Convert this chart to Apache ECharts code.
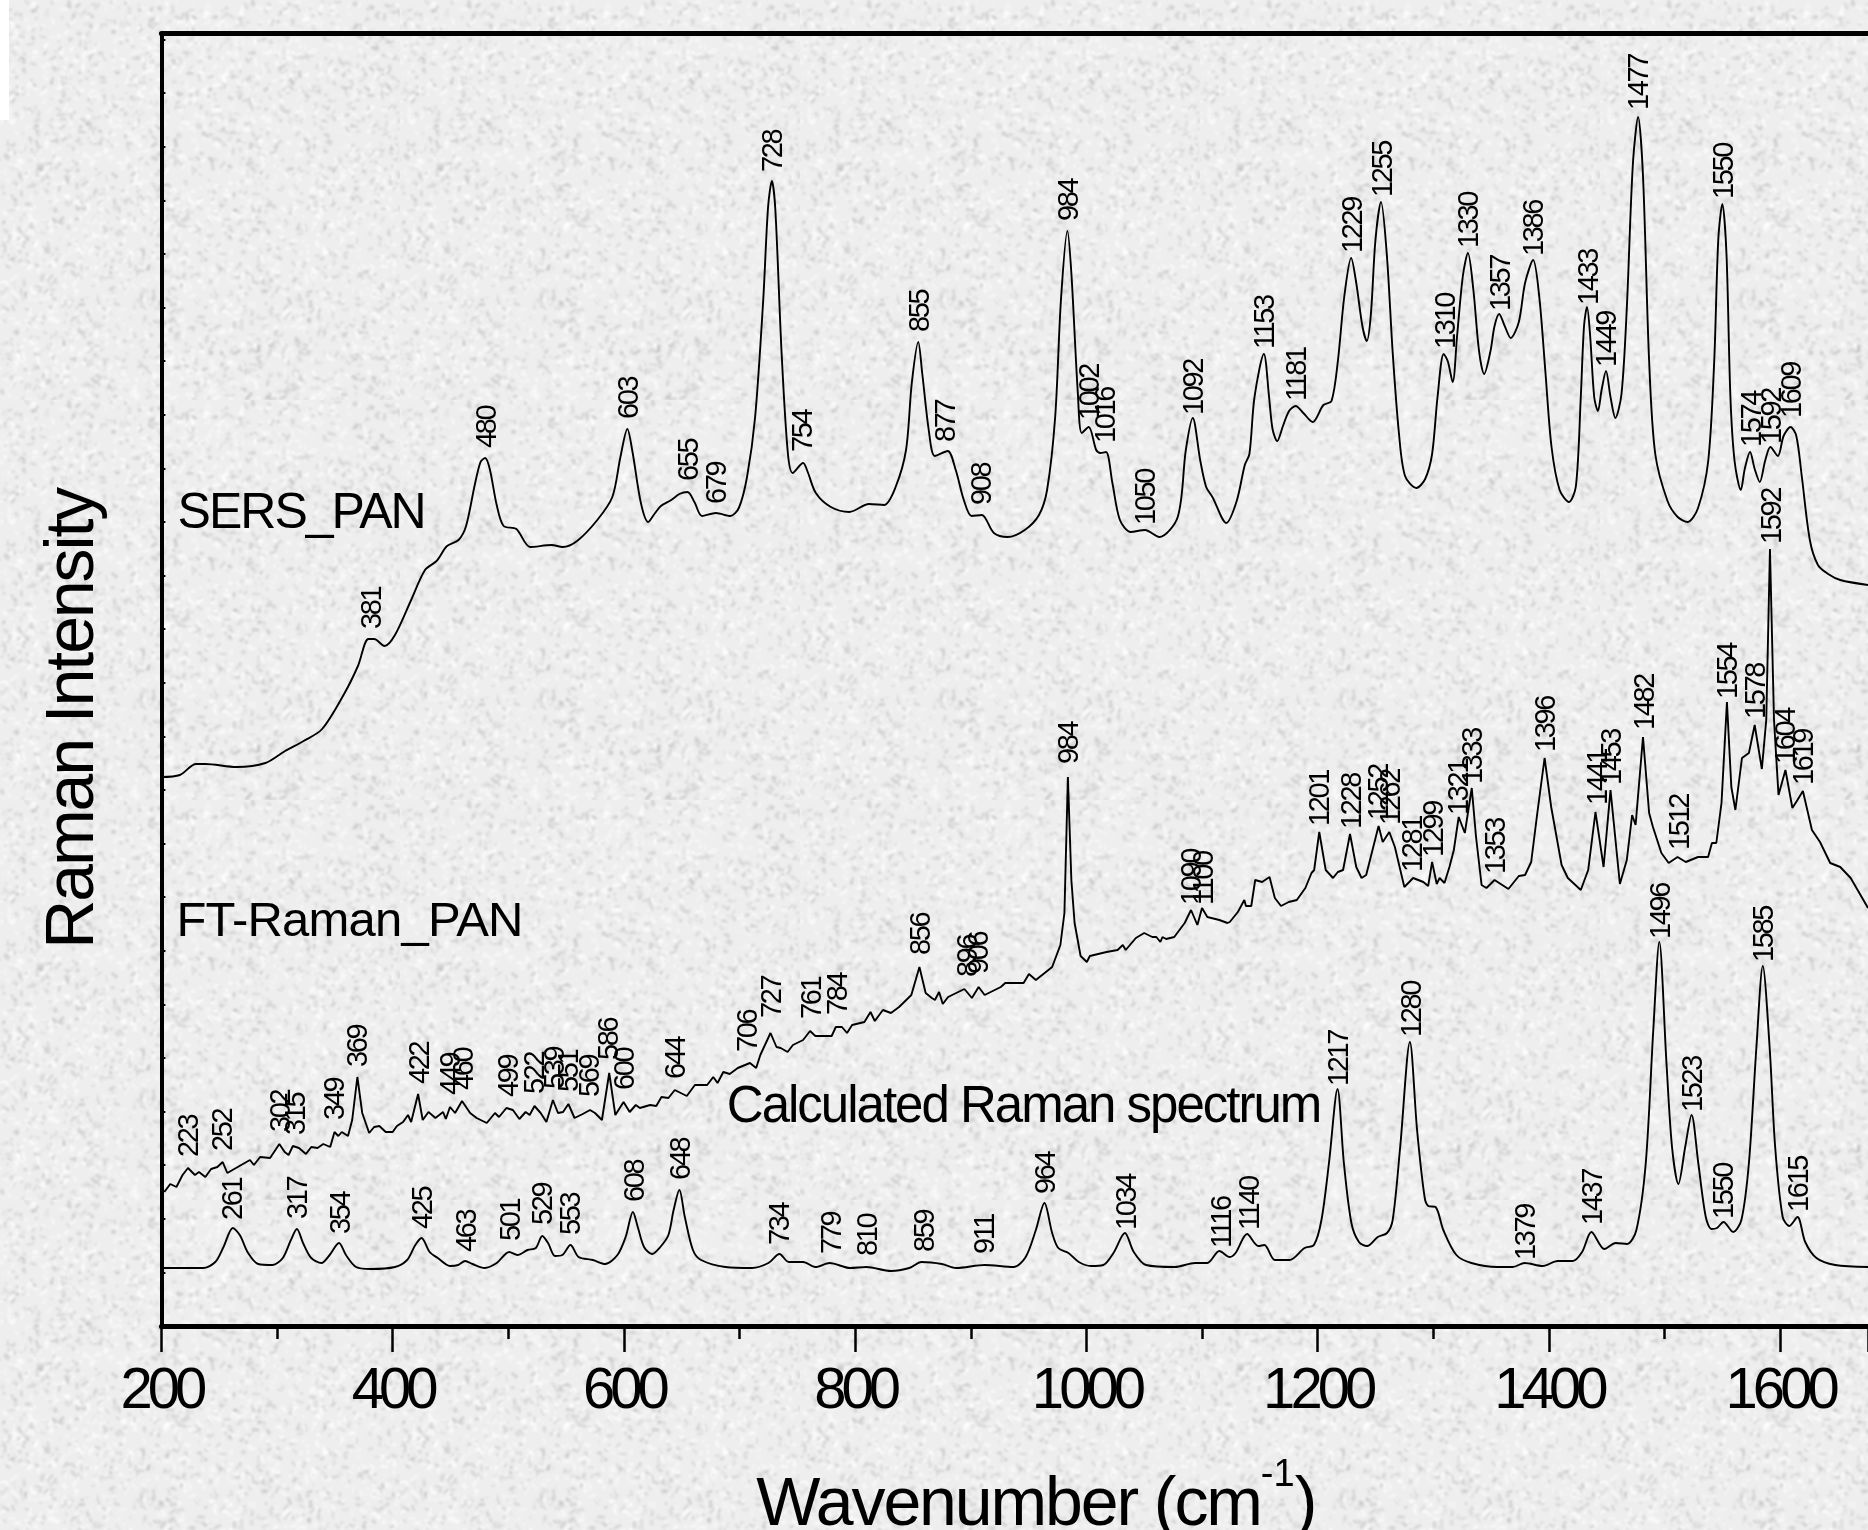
<!DOCTYPE html>
<html>
<head>
<meta charset="utf-8">
<title>Raman spectra of PAN</title>
<script src="https://cdn.jsdelivr.net/npm/echarts@6/dist/echarts.min.js"></script>
<style>
html,body{margin:0;padding:0;width:1868px;height:1530px;overflow:hidden;background:#ececec;}
#corner{position:absolute;left:0;top:0;width:9px;height:120px;background:#fff;z-index:2;}
#main{position:absolute;left:0;top:0;width:1868px;height:1530px;z-index:3;}
</style>
</head>
<body>
<div id="corner"></div>
<div id="main"></div>
<script>
// Wavenumber / intensity traces (intensity in arbitrary units)
const sersWave = [200,216,230,238,265,290,307,323,339,358,370,379,384,393,402,416,428,438,447,457,463.5,471,476,480,484,490,496,507,519,537.5,547,559.5,577,590,597,603,607.6,614.7,621,627,632,641,648,655,661,667.6,679.6,692,699.4,706.5,713.5,720.5,724.7,728,731,736.4,741.8,746,755,759,766,779,795,812,825,835,844,849,854.6,858,864,869,880,887,894,900.7,909.5,920,932,946.7,959,966,973,978,983.6,987,992.6,996,1002,1008.5,1012,1017,1022.5,1029,1038.4,1050.7,1063,1079,1086,1092,1098.4,1103.6,1109,1121,1130,1137,1141,1145.4,1153.5,1158,1161,1165,1170,1175.3,1181,1187.6,1195.7,1205,1212,1217.5,1223,1229,1233.4,1238.7,1242.5,1246,1250,1254.8,1259.8,1265,1270.3,1275.6,1285.4,1293,1299,1303.7,1309,1312.5,1316.8,1320.6,1325.6,1330,1334.7,1339.6,1344,1349.5,1353,1357,1361.8,1367,1374,1379.4,1386.4,1391.7,1397,1402.3,1409.3,1417.4,1423.4,1427.6,1430.4,1433,1435.7,1439.2,1442.4,1445.6,1449.4,1453.3,1457.5,1462.8,1467.4,1472.6,1477.2,1481.4,1486.7,1492,1502.6,1511.4,1520,1529,1537.8,1543,1546.5,1550,1553.6,1557,1560.6,1566,1569.4,1574,1578,1582.4,1587,1591.6,1598,1603,1609,1614,1618.7,1625.7,1632.7,1641.5,1652,1676];
const sersValue = [549,551,562,562,559,563,575,585,597,632,660,687,687,680,691,726,756,765,780,786,800,841,864,868,857,821,800,797,779,781,779,785,806,829,869,897,873,823,804,813,820,826,832,834,824,810,813,810,818,849,909,1026,1119,1145,1116,973,873,853,863,854,833,819,814,822,821,839,876,943,984,953,893,870,875,856,826,810,811,793,789,796,811,836,909,1026,1095,1053,933,893,899,876,873,874,843,806,794,796,789,809,876,908,866,839,829,803,825,861,872,929,972,929,897,885,900,915,920,913,904,921,925,965,1029,1068,1043,1000,985,1011,1086,1124,1072,972,893,850,838,847,872,929,972,965,944,990,1050,1073,1036,975,952,975,1000,1012,1000,988,1004,1043,1066,1029,954,879,836,824,840,929,1000,1019,990,929,915,936,955,929,908,932,1018,1161,1209,1150,965,872,825,809,804,818,865,965,1086,1122,1072,929,865,836,857,874,857,844,865,879,870,890,899,890,850,786,761,752,746,741];

const ftWave = [202.5,207.7,213,218.3,223,229,232.5,238,243,248.4,253,257,266,276.6,280,285.4,294,302,306.6,310,313.7,319,325,329.6,335,340,346,349.7,353,356,361.4,365,369.5,373.7,379.7,384,388.5,394,400,403.7,409,413.3,416,422,426,431,437,443.6,446,449.6,454,460,467,472.6,481.4,488.5,492,498.4,504,509.6,515,518.5,522.7,528,533,538.6,543,547.4,552,557.3,564.4,570.7,575,581,587.3,592.6,599.7,605,610.3,613.8,622.7,628,632.5,638.5,644,654.4,661.4,672,677.3,681,686,691.5,698.5,709,714.4,718,726.8,732,735.6,741.6,746.2,755,761,765.6,779.7,783.3,788.6,793,797.4,808,813.3,817,824,831,838,848.6,855.6,861,866.3,869,872.6,875.8,880.4,894.5,901,906.8,912,926,929.8,945.7,950.3,956.3,970.4,977.5,981,984,987,989.8,995,1000.4,1003,1017.4,1027,1031.5,1034,1042.8,1050,1057,1060.5,1064,1065.8,1069,1076,1085,1090.5,1096,1100,1104.6,1115,1122,1124,1131,1136.6,1138,1142.6,1146,1152,1158.4,1163,1168.3,1175,1182,1189.4,1194.7,1197,1201.4,1207,1213.3,1217.5,1222,1228,1233.4,1238,1242,1252.7,1256.3,1262,1266.8,1275,1282.6,1291.4,1295.6,1299,1303,1305.5,1309.7,1314,1317.8,1322,1327.3,1333.3,1337,1341.8,1346,1353,1365,1374,1379.4,1384.7,1390,1396.3,1402,1411,1416.4,1427.6,1434,1440.3,1447.3,1453.3,1461.4,1467.4,1472,1475,1481.4,1486.7,1490,1497.3,1503.6,1511.3,1518.4,1529,1537.7,1541,1544.8,1549.3,1554,1557.8,1561.3,1567,1573,1578,1584.2,1588,1591.2,1594.7,1598.6,1604.6,1610.6,1615,1619.7,1627.5,1634.5,1643.3,1652,1661,1676];
const ftValue = [134,142,139,151,158,151,154,149,157,159,164,153,159,166,161,169,168,182,174,171,180,178,172,179,178,182,179,194,190,194,190,206,249,213,193,199,200,194,194,200,204,211,204,232,206,214,208,214,207,219,213,225,213,208,203,213,209,218,216,207,214,211,220,213,204,226,213,214,222,208,212,216,213,206,253,211,224,214,221,218,221,220,229,228,236,230,241,241,249,243,254,252,258,263,258,271,293,279,278,274,281,286,295,290,290,299,299,293,301,304,314,305,316,313,319,331,359,333,328,326,334,322,329,337,328,339,331,339,343,343,352,346,359,381,413,549,446,403,370,364,370,374,376,381,376,388,393,389,389,384,389,387,389,403,416,401,418,409,406,403,404,414,426,420,420,446,444,449,428,420,424,426,438,453,456,494,456,448,454,456,492,459,448,451,500,484,494,479,439,448,444,440,464,442,448,443,459,476,509,493,538,489,441,438,446,437,450,451,464,513,568,519,461,448,436,456,514,459,536,442,466,511,501,589,513,499,473,463,469,464,469,469,483,483,523,624,539,516,568,573,601,557,606,777,606,531,556,518,526,535,496,484,463,459,448,418];

const calcWave = [202,236,246.6,253.7,261.8,267.8,275,283.7,296,305,312,317.2,322.5,329.6,338.4,345.5,353.6,359.6,368.4,380.8,402,412.5,419.6,425,432,439,449.6,456.7,462.7,469,479.6,490,500.8,507.9,516.7,523.8,529.4,534.4,540.4,546.7,553.8,560.8,573.2,583.8,594.4,601.5,607.8,612,617.4,624.4,631.5,638.5,643,648,652.7,659.7,666.8,687.9,710.9,725,734.5,742.6,755,765.6,778,795.6,809.7,831,846.8,857.4,875,887.4,912,936.9,947.5,956.3,963.7,970.4,975.7,984.5,993.4,1004,1014.6,1023.4,1033.3,1041,1051.6,1076.4,1094,1104.6,1115,1124,1129,1139,1148.7,1154,1163,1175.7,1188.7,1196.8,1203.3,1209.8,1217.2,1222.7,1229.2,1235.7,1242.8,1252,1260,1264.9,1271.4,1279.8,1286,1292.5,1295.7,1302,1308.7,1320,1333,1355.7,1368.7,1379,1394.7,1407.6,1420.6,1428.7,1436.8,1448,1457.9,1467.6,1475.7,1483.8,1490.3,1495.5,1501.7,1506.5,1512,1517.9,1523.4,1529.2,1535.7,1540.6,1545.4,1551,1559.4,1566.5,1573,1579.5,1585,1590.9,1595.7,1602.2,1608,1615,1621.7,1631.4,1647.6,1676];
const calcValue = [58,58,64,79,98,91,73,62,61,68,86,97,83,68,63,71,83,71,59,57,59,66,81,88,74,68,60,61,65,62,58,63,74,71,76,78,90,83,70,71,81,69,66,62,71,89,114,99,79,72,79,91,116,136,109,76,66,59,58,63,72,64,64,59,63,58,59,55,58,64,62,58,61,59,69,96,123,93,78,73,64,60,61,73,93,74,61,59,63,63,75,69,73,92,80,81,66,66,78,81,106,163,237,163,103,84,80,89,93,106,179,284,196,129,120,119,96,71,63,59,59,63,60,65,65,74,94,77,83,82,96,163,296,384,263,179,142,179,211,163,109,97,98,104,94,106,163,279,360,279,179,109,100,109,84,68,61,59];

// Peak annotations: the number printed is the wavenumber; the height is where the printed number starts
const sersPeaks = [381,480,603,655,679,728,754,855,877,908,984,1002,1016,1050,1092,1153,1181,1229,1255,1310,1330,1357,1386,1433,1449,1477,1550,1574,1592,1609];
const sersPeakLabelY = [699,880,909,847,824,1156,876,996,886,823,1107,908,885,803,913,979,927,1075,1131,979,1080,1017,1072,1023,961,1218,1129,881,884,910];

const ftPeaks = [223,252,302,315,349,369,422,449,460,499,522,539,551,569,586,600,644,706,727,761,784,856,896,906,984,1090,1100,1201,1228,1252,1262,1281,1299,1321,1333,1353,1396,1441,1453,1482,1512,1554,1578,1592,1604,1619];
const ftPeakLabelY = [171,177,196,193,208,261,244,233,238,231,234,239,236,231,268,238,249,276,310,309,313,373,351,354,564,423,423,502,499,508,503,456,471,513,544,454,576,523,543,598,478,629,609,784,564,543];

const calcPeaks = [261,317,354,425,463,501,529,553,608,648,734,779,810,859,911,964,1034,1116,1140,1217,1280,1379,1437,1496,1523,1550,1585,1615];
const calcPeakLabelY = [108,109,94,99,76,87,103,93,126,148,83,74,72,76,74,134,98,80,98,242,291,68,103,389,216,109,366,116];

const spectrumNames = ['SERS_PAN','FT-Raman_PAN','Calculated Raman spectrum'];
const spectrumNameX = [214,213,689];
const spectrumNameY = [812,404,218];
const spectrumNameSize = [50,49,51];

// The reference text is tightly tracked: tracking in px by font size, applied to canvas text and its measurement
const TRACKING = { 29: -2.4, 58: -5, 68: -2.1, 50: -2, 49: -0.8, 51: -2 };
(function () {
  const proto = CanvasRenderingContext2D.prototype;
  const setTrack = ctx => {
    const m = /(\d+(?:\.\d+)?)px/.exec(ctx.font);
    ctx.letterSpacing = ((m && TRACKING[+m[1]]) || 0) + 'px';
  };
  const fill = proto.fillText, stroke = proto.strokeText, measure = proto.measureText;
  proto.fillText = function (t, x, y, w) {
    setTrack(this);
    return w === undefined ? fill.call(this, t, x, y) : fill.call(this, t, x, y, w);
  };
  proto.strokeText = function (t, x, y, w) {
    setTrack(this);
    return w === undefined ? stroke.call(this, t, x, y) : stroke.call(this, t, x, y, w);
  };
  proto.measureText = function (t) { setTrack(this); return measure.call(this, t); };
})();

// Decorative paper-like speckle behind the chart (deterministic tile, set as the page background)
(function () {
  const size = 400;
  const a = document.createElement('canvas');
  a.width = a.height = size;
  const g = a.getContext('2d');
  let s = 20240611;
  const rnd = () => (s = (s * 1664525 + 1013904223) >>> 0) / 4294967296;
  g.fillStyle = '#eeeeee';
  g.fillRect(0, 0, size, size);
  for (let i = 0; i < 4500; i++) {
    const x = rnd() * size, y = rnd() * size, ang = rnd() * Math.PI, l = 2 + rnd() * 6;
    const dark = rnd() < 0.5;
    g.strokeStyle = dark ? 'rgba(190,190,190,' + (0.2 + rnd() * 0.4) + ')' : 'rgba(255,255,255,' + (0.3 + rnd() * 0.5) + ')';
    g.lineWidth = 1.5 + rnd() * 2;
    g.beginPath();
    g.moveTo(x, y);
    g.lineTo(x + Math.cos(ang) * l, y + Math.sin(ang) * l);
    g.stroke();
  }
  const b = document.createElement('canvas');
  b.width = b.height = size;
  const h = b.getContext('2d');
  h.filter = 'blur(1.1px)';
  h.drawImage(a, 0, 0);
  document.body.style.backgroundImage = 'url(' + b.toDataURL('image/png') + ')';
})();

const zip = (a, b) => a.map((v, i) => [v, b[i]]);
const peakData = (p, y) => p.map((v, i) => [v, y[i], String(v)]);
const SANS = '"Liberation Sans",Arial,sans-serif';

const lineSeries = (name, wave, value, smooth) => ({
  name, type: 'line', data: zip(wave, value), showSymbol: false, symbol: 'none',
  smooth: smooth, silent: true,
  lineStyle: { color: '#000', width: 1.9 }, z: 3
});
const peakSeries = (name, peaks, y) => ({
  name, type: 'scatter', data: peakData(peaks, y), symbolSize: 0, silent: true, z: 4, clip: false,
  itemStyle: { opacity: 1 },
  label: {
    show: true, position: 'top', distance: 0, rotate: 90, align: 'left', verticalAlign: 'middle',
    offset: [-2, 2.5], formatter: p => p.data[2], fontFamily: SANS, fontSize: 29, color: '#000', opacity: 1
  }
});

const chart = echarts.init(document.getElementById('main'), null, { renderer: 'canvas', width: 1868, height: 1530 });
chart.setOption({
  backgroundColor: 'transparent',
  animation: false,
  grid: { left: 161.4, right: 0, top: 33.5, bottom: 204, containLabel: false, outerBoundsMode: 'none' },
  xAxis: [{
    type: 'value', position: 'bottom', min: 200, max: 1676, interval: 200,
    name: 'Wavenumber (cm{sup|-1})', nameLocation: 'middle', nameGap: 131,
    nameTextStyle: {
      fontFamily: SANS, fontSize: 68, color: '#000', padding: [0, 0, 0, 42],
      rich: { sup: { fontFamily: SANS, fontSize: 38, verticalAlign: 'top', color: '#000', padding: [0, 0, 60, 0] } }
    },
    axisLine: { show: true, lineStyle: { color: '#000', width: 5 } },
    axisTick: { show: true, length: 26, lineStyle: { color: '#000', width: 2.5 } },
    minorTick: { show: true, splitNumber: 2, length: 13, lineStyle: { color: '#000', width: 2.5 } },
    axisLabel: { show: true, margin: 39, fontFamily: SANS, fontSize: 58, color: '#000', showMaxLabel: false, formatter: v => String(v) },
    splitLine: { show: false }
  }, {
    type: 'value', position: 'top', min: 200, max: 1676,
    axisLine: { show: true, lineStyle: { color: '#000', width: 5 } },
    axisTick: { show: false }, axisLabel: { show: false }, splitLine: { show: false }
  }],
  yAxis: {
    type: 'value', min: 0, max: 1292.5, interval: 53.6,
    name: 'Raman Intensity', nameLocation: 'middle', nameGap: 54, nameRotate: 90,
    nameTextStyle: { fontFamily: SANS, fontSize: 68, color: '#000', padding: [0, 78, 0, 0] },
    axisLine: { show: true, lineStyle: { color: '#000', width: 4 } },
    axisTick: { show: true, inside: true, length: 4, lineStyle: { color: '#000', width: 2 } },
    axisLabel: { show: false },
    splitLine: { show: false }
  },
  series: [
    lineSeries('SERS_PAN', sersWave, sersValue, 0.3),
    lineSeries('FT-Raman_PAN', ftWave, ftValue, false),
    lineSeries('Calculated Raman spectrum', calcWave, calcValue, 0.3),
    peakSeries('SERS peaks', sersPeaks, sersPeakLabelY),
    peakSeries('FT-Raman peaks', ftPeaks, ftPeakLabelY),
    peakSeries('Calculated peaks', calcPeaks, calcPeakLabelY),
    {
      name: 'Spectrum names', type: 'scatter', symbolSize: 0, silent: true, z: 4,
      itemStyle: { opacity: 1 },
      data: spectrumNames.map((n, i) => ({
        value: [spectrumNameX[i], spectrumNameY[i]],
        label: { show: true, formatter: n, position: 'right', distance: 0, fontFamily: SANS, fontSize: spectrumNameSize[i], color: '#000', opacity: 1 }
      }))
    }
  ]
});
</script>
</body>
</html>
